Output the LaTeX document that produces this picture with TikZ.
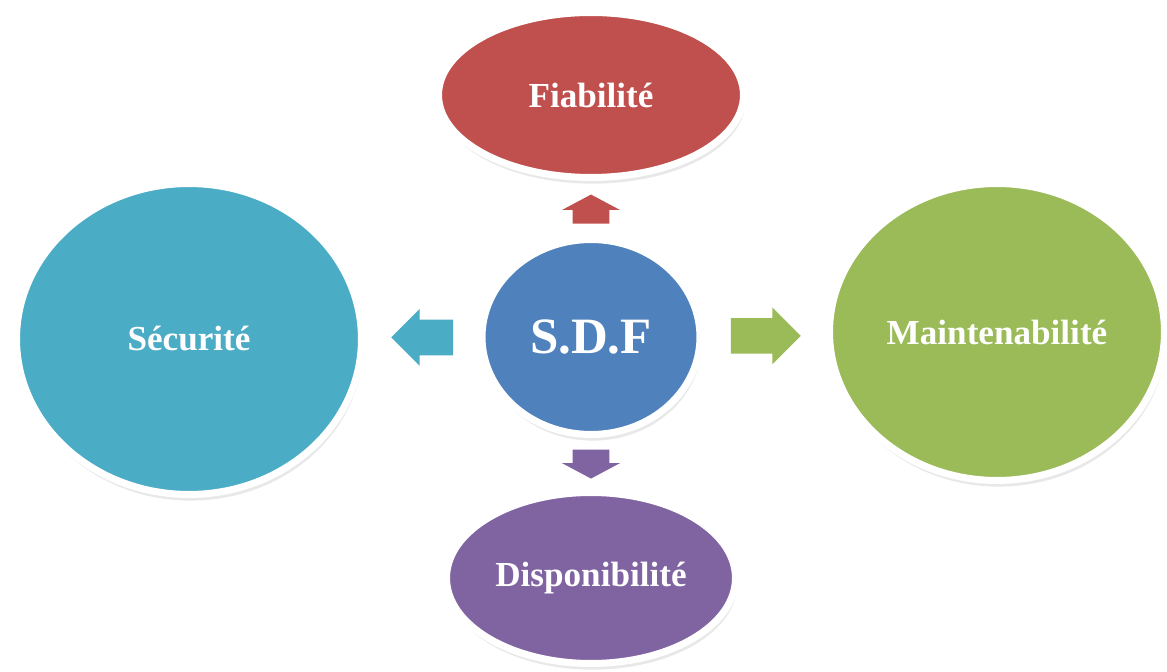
\documentclass[tikz,border=0pt]{standalone}
\usepackage{fontspec}
\setmainfont{Liberation Serif}
\usetikzlibrary{shapes.geometric,shapes.arrows,shadows,calc}

\definecolor{rouge}{HTML}{C0504D}
\definecolor{cyan}{HTML}{4BACC6}
\definecolor{bleu}{HTML}{4F81BD}
\definecolor{vert}{HTML}{9BBB59}
\definecolor{violet}{HTML}{8064A2}

\tikzset{
  bulle/.style={ellipse, draw=white, line width=0.14cm, fill=#1, text=white, inner sep=0pt,
    font=\bfseries\fontsize{20}{24}\selectfont,
    drop shadow={opacity=0.18, shadow xshift=1pt, shadow yshift=-3.5pt}},
  fleche/.style={single arrow, fill=#1, draw=none, inner xsep=0pt, inner ysep=0.35cm,
    minimum width=0pt, single arrow head extend=0.21cm, anchor=tail},
  flechev/.style={fleche=#1, inner xsep=0.36cm, inner ysep=0pt, single arrow tip angle=124}
}

\begin{document}
\begin{tikzpicture}[x=0.02cm, y=-0.02cm]
\useasboundingbox (0,0) rectangle (1167,672);
%\draw [lightgray](0,0) grid[step=50] (1167,672);

\node[bulle=rouge, minimum width=6.1cm, minimum height=3.3cm] (fiab) at (591,95) {Fiabilité}; % haut
\node[bulle=cyan, minimum width=6.9cm, minimum height=6.22cm] (secu) at (189,339) {Sécurité}; % gauche
\node[bulle=vert, minimum width=6.7cm, minimum height=5.94cm] (maint) at (997,332) {Maintenabilité}; % droite
\node[bulle=violet, minimum width=5.78cm, minimum height=3.42cm] (dispo) at (591,578) {Disponibilité}; % bas
\node[bulle=bleu, minimum width=4.36cm, minimum height=3.9cm,
      font=\bfseries\fontsize{29}{34}\selectfont] (sdf) at (591,337) {S.D.F}; % centre

% fleches
\node[flechev=rouge, shape border rotate=90, minimum height=0.58cm]
  (fh) at ($(sdf.north)!0.22!(fiab.south)$) {};
\node[fleche=cyan, shape border rotate=180, minimum height=1.24cm]
  (fg) at ($(sdf.west)!0.22!(secu.east)$) {};
\node[fleche=vert, minimum height=1.4cm]
  (fd) at ($(sdf.east)!0.22!(maint.west)$) {};
\node[flechev=violet, shape border rotate=270, minimum height=0.58cm]
  (fb) at ($(sdf.south)!0.22!(dispo.north)$) {};

\end{tikzpicture}
\end{document}
